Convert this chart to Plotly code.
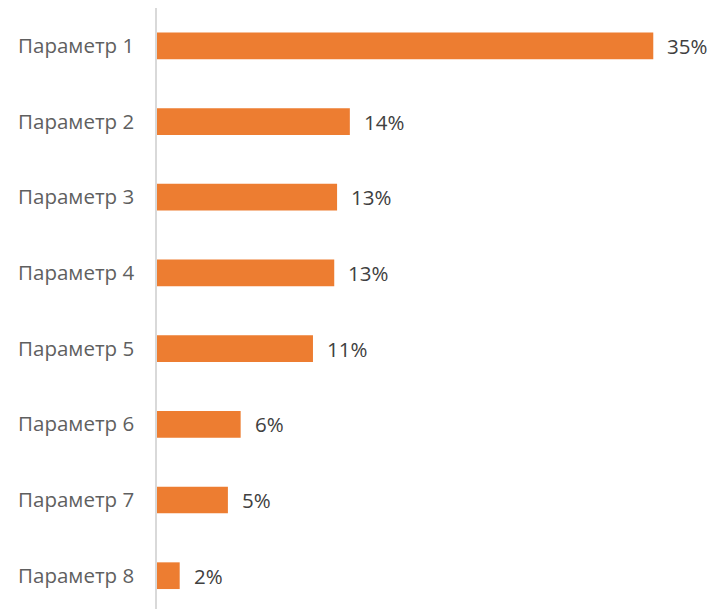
import plotly.graph_objects as go

categories = ["Параметр 1", "Параметр 2", "Параметр 3", "Параметр 4",
              "Параметр 5", "Параметр 6", "Параметр 7", "Параметр 8"]
values = [0.35, 0.136, 0.127, 0.125, 0.11, 0.059, 0.05, 0.016]
labels = ["35%", "14%", "13%", "13%", "11%", "6%", "5%", "2%"]

BAR_COLOR = "#ED7D31"
FONT = "Open Sans"

fig = go.Figure()
fig.add_trace(go.Bar(
    x=values, y=categories, orientation="h",
    marker=dict(color=BAR_COLOR, line=dict(width=0)),
    hoverinfo="skip",
))

for v, c, t in zip(values, categories, labels):
    fig.add_annotation(x=v, y=c, text=t, showarrow=False, xanchor="left",
                       yanchor="middle", xshift=12,
                       font=dict(family=FONT, size=20.5, color="#404040"))

fig.update_layout(
    width=715, height=609,
    margin=dict(l=149, r=13, t=0, b=8),
    paper_bgcolor="white", plot_bgcolor="white",
    showlegend=False,
    bargap=0.647,
    xaxis=dict(range=[0, 0.39], showgrid=False, zeroline=False,
               showticklabels=False, showline=False, ticks=""),
    yaxis=dict(range=[7.44, -0.5], showgrid=False, zeroline=False,
               showline=True, linecolor="#D9D9D9", linewidth=1.5,
               ticks="", ticklabelstandoff=17,
               tickfont=dict(family=FONT, size=20.5, color="#5F5F5F")),
)

fig.write_html("out.html")
